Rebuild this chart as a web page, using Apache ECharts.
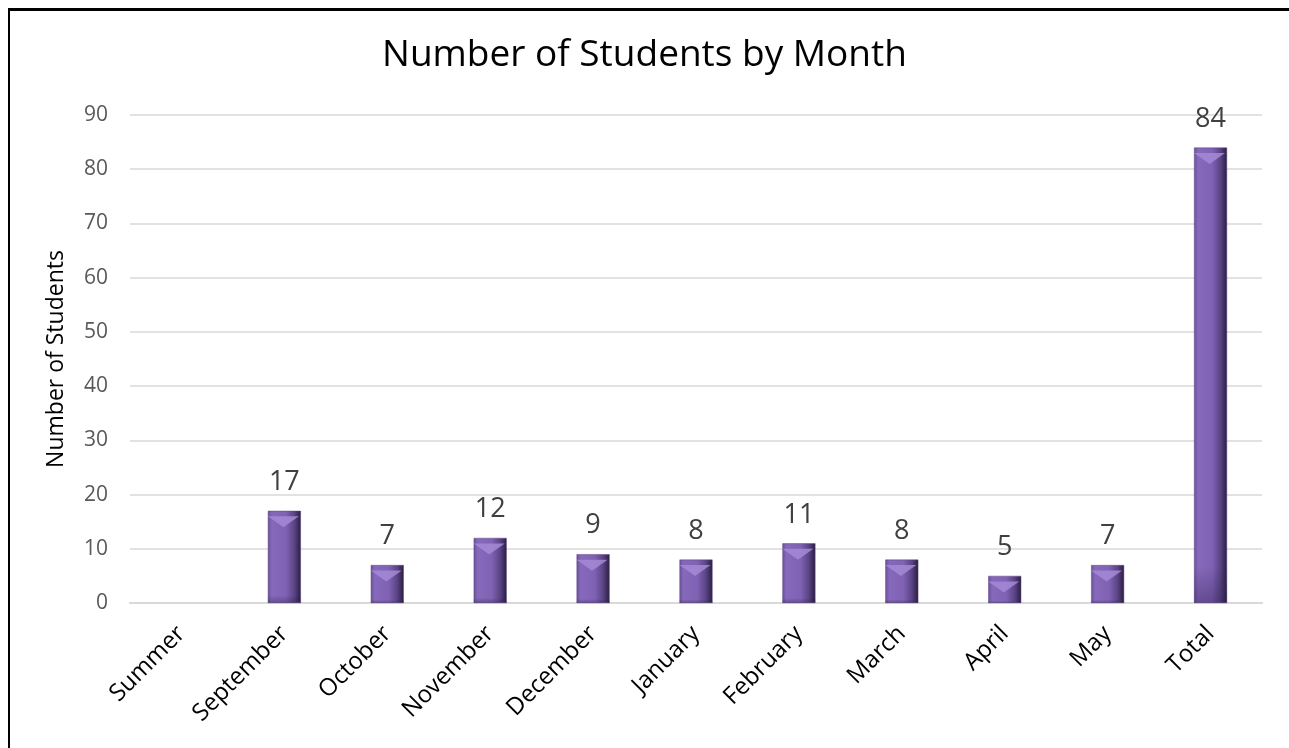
<!DOCTYPE html>
<html>
<head>
<meta charset="utf-8">
<script src="https://cdn.jsdelivr.net/npm/echarts@6/dist/echarts.min.js"></script>
<style>
  html, body { margin: 0; padding: 0; background: #fff; overflow: hidden; }
  #frame { position: absolute; left: 8px; top: 8px; width: 1400px; height: 800px;
           border-left: 2px solid #000; border-top: 3px solid #000; }
  #main { position: absolute; left: 0; top: 0; width: 1289px; height: 748px; }
</style>
</head>
<body>
<div id="frame"></div>
<div id="main"></div>
<script>
// months on the x axis
const months = ['Summer', 'September', 'October', 'November', 'December', 'January',
  'February', 'March', 'April', 'May', 'Total'];
// students per month (summer has no bar)
const students = [null, 17, 7, 12, 9, 8, 11, 8, 5, 7, 84];
const yTicks = { min: 0, max: 90, step: 10 };

const fontFamily = '"Open Sans", "Noto Sans", sans-serif';

// purple bevel: dark right edge, light left face
const sideFill = new echarts.graphic.LinearGradient(0, 0, 1, 0, [
  { offset: 0, color: '#6a5199' },
  { offset: 0.12, color: '#8669ba' },
  { offset: 0.55, color: '#7f62b3' },
  { offset: 0.8, color: '#5a4485' },
  { offset: 1, color: '#2a1d3e' }
]);
// darker foot of the bevel
const footFill = new echarts.graphic.LinearGradient(0, 0, 0, 1, [
  { offset: 0, color: 'rgba(40,25,70,0)' },
  { offset: 0.92, color: 'rgba(40,25,70,0)' },
  { offset: 1, color: 'rgba(40,25,70,0.35)' }
]);

const chart = echarts.init(document.getElementById('main'));
chart.setOption({
  animation: false,
  title: {
    text: 'Number of Students by Month',
    left: 'center',
    top: 32,
    textStyle: { fontFamily, fontSize: 37, fontWeight: 'normal', color: '#000' }
  },
  grid: { left: 130, right: 27, top: 115, bottom: 145 },
  xAxis: {
    type: 'category',
    data: months,
    axisLine: { lineStyle: { color: '#d9d9d9', width: 2 } },
    axisTick: { show: false },
    axisLabel: { rotate: 45, margin: 27, fontFamily, fontSize: 24, color: '#000', interval: 0 }
  },
  yAxis: {
    type: 'value',
    min: yTicks.min,
    max: yTicks.max,
    interval: yTicks.step,
    name: 'Number of Students',
    nameLocation: 'middle',
    nameGap: 62,
    nameTextStyle: { fontFamily, fontSize: 23, color: '#000' },
    axisLabel: { fontFamily, fontSize: 21, color: '#595959', margin: 22 },
    splitLine: { lineStyle: { color: '#d9d9d9', width: 1.5 } }
  },
  series: [
    {
      type: 'bar',
      data: students,
      barWidth: 33,
      itemStyle: { color: sideFill, borderColor: '#5a4485', borderWidth: 0.5 },
      label: {
        show: true, position: 'top', distance: 15,
        fontFamily, fontSize: 27, color: '#404040'
      }
    },
    {
      type: 'bar',
      data: students,
      barWidth: 33,
      barGap: '-100%',
      silent: true,
      itemStyle: { color: footFill }
    },
    {
      // light V facet on top of each bar
      type: 'pictorialBar',
      data: students,
      symbol: 'path://M0,0 L10,0 L5,3.5 Z',
      symbolSize: [31, 11],
      symbolPosition: 'end',
      symbolOffset: [-1, '50%'],
      silent: true,
      z: 3,
      itemStyle: { color: '#a48ad6', opacity: 0.85 }
    }
  ]
});
</script>
</body>
</html>
